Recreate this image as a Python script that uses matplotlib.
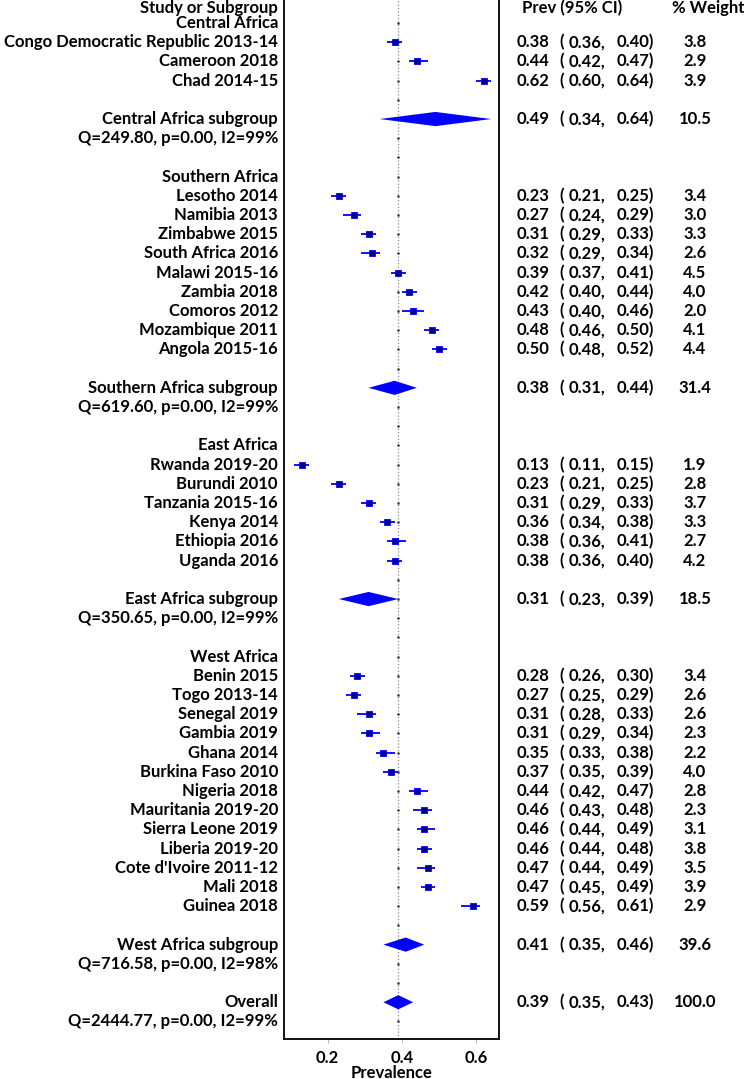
import numpy as np
import matplotlib
matplotlib.use("Agg")
import matplotlib.pyplot as plt
from matplotlib.transforms import blended_transform_factory

plt.rcParams['font.family'] = ['Lato', 'DejaVu Sans']
plt.rcParams['font.weight'] = 'bold'

# ---- data ----
groups = ["Central Africa", "Southern Africa", "East Africa", "West Africa"]

central_names = ["Congo Democratic Republic 2013-14", "Cameroon 2018", "Chad 2014-15"]
central_prev = [0.38, 0.44, 0.62]
central_lo = [0.36, 0.42, 0.60]
central_hi = [0.40, 0.47, 0.64]
central_w = [3.8, 2.9, 3.9]

southern_names = ["Lesotho 2014", "Namibia 2013", "Zimbabwe 2015", "South Africa 2016",
                  "Malawi 2015-16", "Zambia 2018", "Comoros 2012", "Mozambique 2011",
                  "Angola 2015-16"]
southern_prev = [0.23, 0.27, 0.31, 0.32, 0.39, 0.42, 0.43, 0.48, 0.50]
southern_lo = [0.21, 0.24, 0.29, 0.29, 0.37, 0.40, 0.40, 0.46, 0.48]
southern_hi = [0.25, 0.29, 0.33, 0.34, 0.41, 0.44, 0.46, 0.50, 0.52]
southern_w = [3.4, 3.0, 3.3, 2.6, 4.5, 4.0, 2.0, 4.1, 4.4]

east_names = ["Rwanda 2019-20", "Burundi 2010", "Tanzania 2015-16", "Kenya 2014",
              "Ethiopia 2016", "Uganda 2016"]
east_prev = [0.13, 0.23, 0.31, 0.36, 0.38, 0.38]
east_lo = [0.11, 0.21, 0.29, 0.34, 0.36, 0.36]
east_hi = [0.15, 0.25, 0.33, 0.38, 0.41, 0.40]
east_w = [1.9, 2.8, 3.7, 3.3, 2.7, 4.2]

west_names = ["Benin 2015", "Togo 2013-14", "Senegal 2019", "Gambia 2019", "Ghana 2014",
              "Burkina Faso 2010", "Nigeria 2018", "Mauritania 2019-20", "Sierra Leone 2019",
              "Liberia 2019-20", "Cote d'Ivoire 2011-12", "Mali 2018", "Guinea 2018"]
west_prev = [0.28, 0.27, 0.31, 0.31, 0.35, 0.37, 0.44, 0.46, 0.46, 0.46, 0.47, 0.47, 0.59]
west_lo = [0.26, 0.25, 0.28, 0.29, 0.33, 0.35, 0.42, 0.43, 0.44, 0.44, 0.44, 0.45, 0.56]
west_hi = [0.30, 0.29, 0.33, 0.34, 0.38, 0.39, 0.47, 0.48, 0.49, 0.48, 0.49, 0.49, 0.61]
west_w = [3.4, 2.6, 2.6, 2.3, 2.2, 4.0, 2.8, 2.3, 3.1, 3.8, 3.5, 3.9, 2.9]

sub_prev = [0.49, 0.38, 0.31, 0.41]
sub_lo = [0.34, 0.31, 0.23, 0.35]
sub_hi = [0.64, 0.44, 0.39, 0.46]
sub_w = [10.5, 31.4, 18.5, 39.6]
sub_het = ["Q=249.80, p=0.00, I2=99%", "Q=619.60, p=0.00, I2=99%",
           "Q=350.65, p=0.00, I2=99%", "Q=716.58, p=0.00, I2=98%"]

overall_prev, overall_lo, overall_hi, overall_w = 0.39, 0.35, 0.43, 100.0
overall_het = "Q=2444.77, p=0.00, I2=99%"

studies = [
    (central_names, central_prev, central_lo, central_hi, central_w),
    (southern_names, southern_prev, southern_lo, southern_hi, southern_w),
    (east_names, east_prev, east_lo, east_hi, east_w),
    (west_names, west_prev, west_lo, west_hi, west_w),
]

# ---- figure ----
W, H = 744, 1079
fig = plt.figure(figsize=(W / 100, H / 100), dpi=100)
ax = fig.add_axes([284.3 / W, 1 - 1039.3 / H, 215 / W, 1039.3 / H])

fs = 12
tr = blended_transform_factory(fig.transFigure, ax.transData)
lab_x = 278 / W


def left_text(row, s):
    ax.text(lab_x, row, s, transform=tr, ha='right', va='center', fontsize=fs,
            fontweight='bold', clip_on=False)


def right_text(row, p, lo, hi, w):
    ax.text(516.7 / W, row, f"{p:.2f}", transform=tr, ha='left', va='center', fontsize=fs)
    ax.text(559 / W, row, "(", transform=tr, ha='left', va='center', fontsize=fs)
    ax.text(568.3 / W, row, f"{lo:.2f},", transform=tr, ha='left', va='center', fontsize=fs)
    ax.text(616.7 / W, row, f"{hi:.2f})", transform=tr, ha='left', va='center', fontsize=fs)
    ax.text(695 / W, row, f"{w:.1f}", transform=tr, ha='center', va='center', fontsize=fs)


def diamond(row, p, lo, hi):
    h = 0.37
    ax.fill([lo, p, hi, p], [row, row - h, row, row + h], color='#0000ff', lw=0, zorder=3)


# header
ax.text(lab_x, 0.2, "Study or Subgroup", transform=tr, ha='right', va='center', fontsize=fs)
ax.text(522.3 / W, 0.2, "Prev (95% CI)", transform=tr, ha='left', va='center', fontsize=fs)
ax.text(671.7 / W, 0.2, "% Weight", transform=tr, ha='left', va='center', fontsize=fs)

row = 1
for gi, (names, prev, lo, hi, w) in enumerate(studies):
    left_text(row, groups[gi])
    row += 1
    for n, p, l, h, ww in zip(names, prev, lo, hi, w):
        left_text(row, n)
        ax.plot([l, h], [row, row], color='#0000ff', lw=1.3, zorder=3, solid_capstyle='butt')
        ax.plot(p, row, marker='s', ms=4.6, mfc='#00008b', mec='#0000ff', mew=0.6, zorder=4)
        right_text(row, p, l, h, ww)
        row += 1
    row += 1
    left_text(row, groups[gi] + " subgroup")
    diamond(row, sub_prev[gi], sub_lo[gi], sub_hi[gi])
    right_text(row, sub_prev[gi], sub_lo[gi], sub_hi[gi], sub_w[gi])
    row += 1
    left_text(row, sub_het[gi])
    row += 2

left_text(row, "Overall")
diamond(row, overall_prev, overall_lo, overall_hi)
right_text(row, overall_prev, overall_lo, overall_hi, overall_w)
row += 1
left_text(row, overall_het)
last_row = row

# reference line at overall estimate, with a small dot per row
ax.axvline(overall_prev, color='#888888', lw=0.9, ls=':', zorder=1)
rows_all = np.arange(1, last_row + 1)
ax.plot(np.full(len(rows_all), overall_prev), rows_all, ls='none', marker='.', ms=1.8,
        color='#444444', zorder=1)

ax.set_xlim(0.0832, 0.662)
ax.set_ylim(53.93, -0.2)
ax.set_yticks([])
ax.set_xticks([0.2, 0.4, 0.6])
ax.set_xticklabels(["0.2", "0.4", "0.6"], fontsize=fs, fontweight='bold')
ax.tick_params(axis='x', length=3, width=0.8, pad=5, color='#bbbbbb')
ax.set_xlabel("Prevalence", fontsize=fs, fontweight='bold', labelpad=-1)
ax.spines['top'].set_visible(False)
for s in ['left', 'right', 'bottom']:
    ax.spines[s].set_linewidth(1.4)
    ax.spines[s].set_color('#111111')

fig.savefig("out.png", dpi=100)
